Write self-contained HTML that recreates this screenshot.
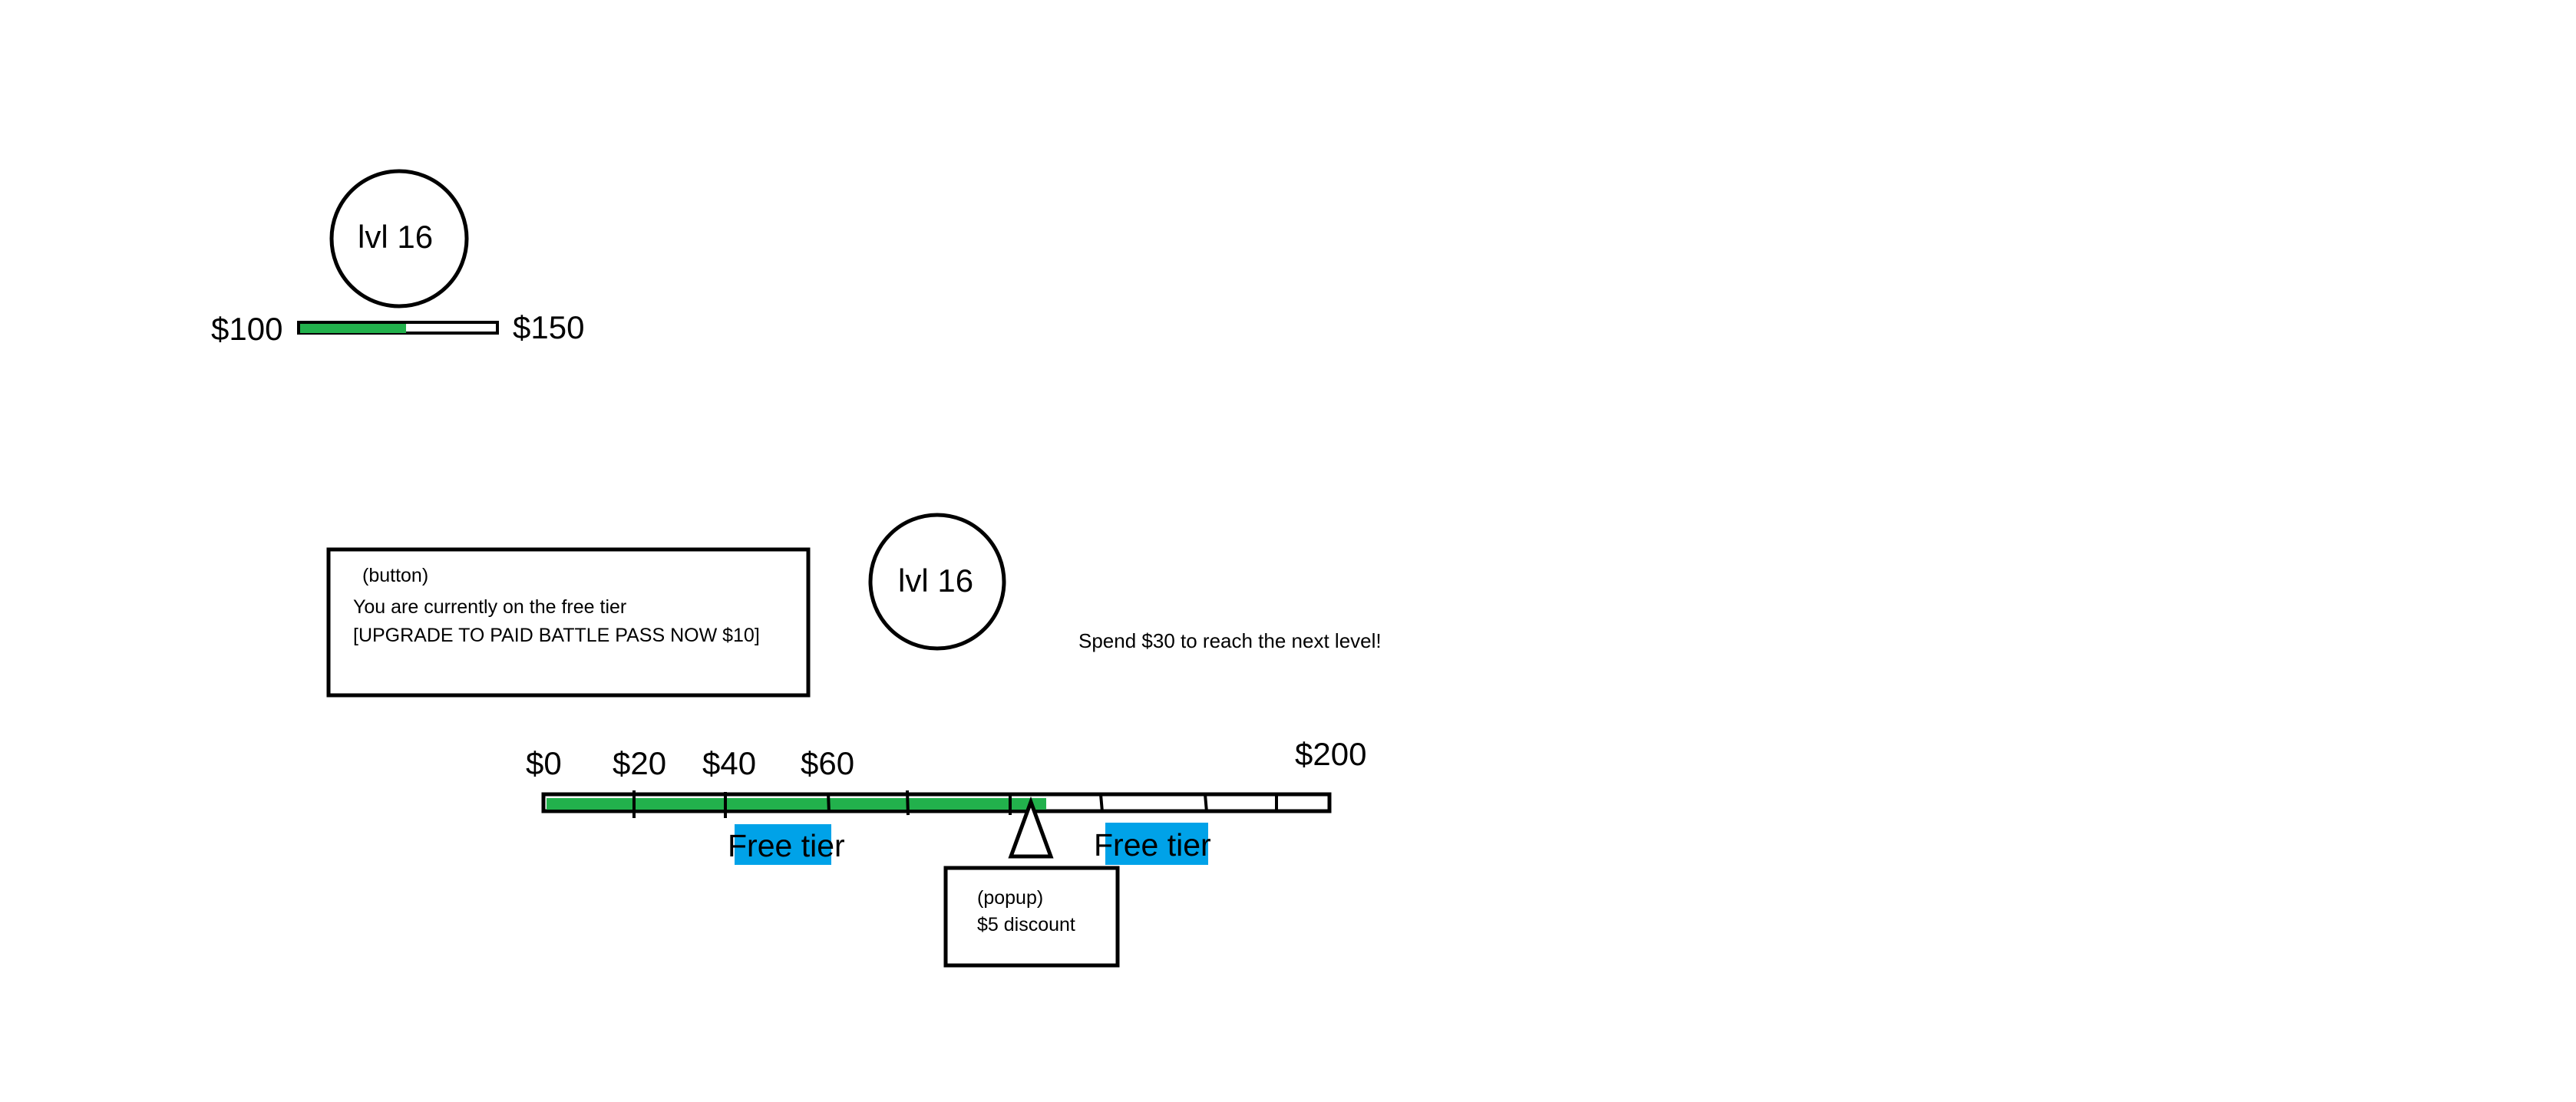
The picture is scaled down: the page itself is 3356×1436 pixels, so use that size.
<!DOCTYPE html>
<html><head><meta charset="utf-8"><style>
html,body{margin:0;padding:0;background:#fff;}
body{width:3356px;height:1436px;position:relative;overflow:hidden;font-family:"Liberation Sans",sans-serif;}
.t{position:absolute;white-space:nowrap;color:#000;line-height:1;}
</style></head><body>
<svg width="3356" height="1436" style="position:absolute;left:0;top:0">
  <!-- top widget -->
  <circle cx="520" cy="311" r="88" fill="none" stroke="#000" stroke-width="5"/>
  <rect x="389" y="420" width="259" height="14" fill="#fff" stroke="#000" stroke-width="4"/>
  <rect x="391" y="422" width="138" height="12" fill="#22b14c"/>
  <!-- button box -->
  <rect x="428" y="716" width="625" height="190" fill="none" stroke="#000" stroke-width="5"/>
  <!-- circle 2 -->
  <circle cx="1221" cy="758" r="87" fill="none" stroke="#000" stroke-width="5"/>
  <!-- bar -->
  <rect x="708" y="1035" width="1024" height="22" fill="#fff" stroke="#000" stroke-width="5"/>
  <rect x="712" y="1040" width="651" height="15" fill="#22b14c"/>
  <g stroke="#000" stroke-width="4">
    <line x1="826" y1="1030" x2="826" y2="1066"/>
    <line x1="945" y1="1032" x2="945" y2="1066"/>
    <line x1="1079" y1="1033" x2="1080" y2="1059"/>
    <line x1="1182" y1="1030" x2="1183" y2="1062"/>
    <line x1="1316" y1="1033" x2="1316" y2="1062"/>
    <line x1="1434" y1="1035" x2="1436" y2="1058"/>
    <line x1="1570" y1="1035" x2="1572" y2="1058"/>
    <line x1="1663" y1="1035" x2="1663" y2="1058"/>
  </g>
  <!-- blue boxes -->
  <rect x="957" y="1074" width="126" height="53" fill="#00a2e8"/>
  <rect x="1440" y="1072" width="134" height="55" fill="#00a2e8"/>
  <!-- triangle -->
  <polygon points="1343,1045 1317,1116 1369,1116" fill="#fff" stroke="#000" stroke-width="5" stroke-linejoin="miter"/>
  <!-- popup -->
  <rect x="1232" y="1131" width="224" height="127" fill="none" stroke="#000" stroke-width="5"/>
</svg>
<div class="t" style="left:466px;top:288px;font-size:42px">lvl 16</div>
<div class="t" style="left:275px;top:408px;font-size:42px">$100</div>
<div class="t" style="left:668px;top:406px;font-size:42px">$150</div>

<div class="t" style="left:472px;top:738px;font-size:25px">(button)</div>
<div class="t" style="left:460px;top:779px;font-size:25px">You are currently on the free tier</div>
<div class="t" style="left:460px;top:816px;font-size:25px">[UPGRADE TO PAID BATTLE PASS NOW $10]</div>
<div class="t" style="left:1170px;top:736px;font-size:42px">lvl 16</div>
<div class="t" style="left:1405px;top:822px;font-size:26px">Spend $30 to reach the next level!</div>

<div class="t" style="left:685px;top:974px;font-size:42px">$0</div>
<div class="t" style="left:798px;top:974px;font-size:42px">$20</div>
<div class="t" style="left:915px;top:974px;font-size:42px">$40</div>
<div class="t" style="left:1043px;top:974px;font-size:42px">$60</div>
<div class="t" style="left:1687px;top:962px;font-size:42px">$200</div>

<div class="t" style="left:948px;top:1082px;font-size:41px">Free tier</div>
<div class="t" style="left:1425px;top:1081px;font-size:41px">Free tier</div>

<div class="t" style="left:1273px;top:1158px;font-size:25px">(popup)</div>
<div class="t" style="left:1273px;top:1193px;font-size:25px">$5 discount</div>
</body></html>
